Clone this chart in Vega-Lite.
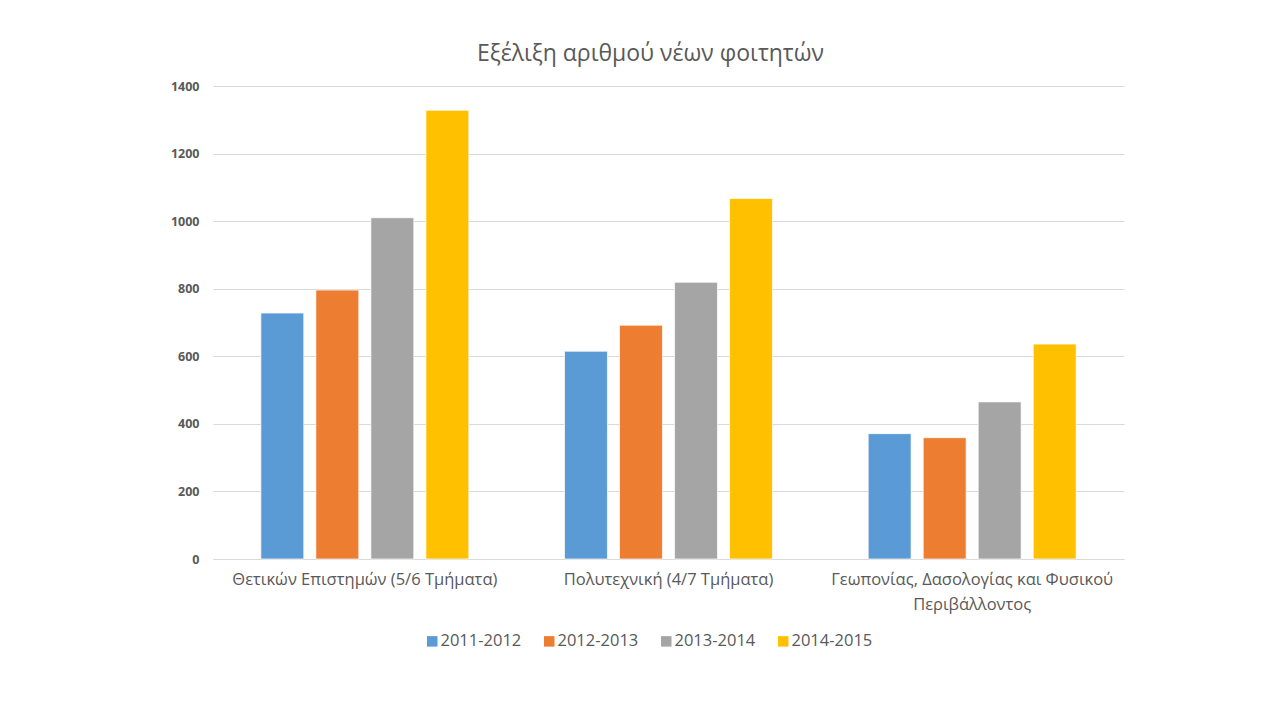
{
  "$schema": "https://vega.github.io/schema/vega-lite/v6.json",
  "width": 911,
  "height": 473,
  "autosize": {"type": "none"},
  "padding": {"left": 213, "top": 86, "right": 154, "bottom": 164},
  "background": "white",
  "title": {
    "text": "Εξέλιξη αριθμού νέων φοιτητών",
    "font": "Open Sans",
    "fontSize": 23,
    "fontWeight": "normal",
    "color": "#595959",
    "anchor": "middle",
    "dx": -18,
    "offset": 14
  },
  "data": {
    "values": [
      {"school": "Θετικών Επιστημών (5/6 Τμήματα)", "year": "2011-2012", "students": 728},
      {"school": "Θετικών Επιστημών (5/6 Τμήματα)", "year": "2012-2013", "students": 796},
      {"school": "Θετικών Επιστημών (5/6 Τμήματα)", "year": "2013-2014", "students": 1010},
      {"school": "Θετικών Επιστημών (5/6 Τμήματα)", "year": "2014-2015", "students": 1328},
      {"school": "Πολυτεχνική (4/7 Τμήματα)", "year": "2011-2012", "students": 615},
      {"school": "Πολυτεχνική (4/7 Τμήματα)", "year": "2012-2013", "students": 692},
      {"school": "Πολυτεχνική (4/7 Τμήματα)", "year": "2013-2014", "students": 819},
      {"school": "Πολυτεχνική (4/7 Τμήματα)", "year": "2014-2015", "students": 1067},
      {"school": "Γεωπονίας, Δασολογίας και Φυσικού Περιβάλλοντος", "year": "2011-2012", "students": 371},
      {"school": "Γεωπονίας, Δασολογίας και Φυσικού Περιβάλλοντος", "year": "2012-2013", "students": 359},
      {"school": "Γεωπονίας, Δασολογίας και Φυσικού Περιβάλλοντος", "year": "2013-2014", "students": 465},
      {"school": "Γεωπονίας, Δασολογίας και Φυσικού Περιβάλλοντος", "year": "2014-2015", "students": 636}
    ]
  },
  "mark": {"type": "bar", "stroke": "white", "strokeWidth": 0.7},
  "encoding": {
    "x": {
      "field": "school",
      "type": "nominal",
      "sort": null,
      "title": null,
      "scale": {"paddingInner": 0, "paddingOuter": 0},
      "axis": {
        "labelAngle": 0,
        "labelFont": "Open Sans",
        "labelFontSize": 16.5,
        "labelColor": "#595959",
        "labelPadding": 12,
        "labelLineHeight": 25,
        "ticks": false,
        "domainColor": "#d9d9d9",
        "domainWidth": 1,
        "labelLimit": 400,
        "labelExpr": "datum.label == 'Γεωπονίας, Δασολογίας και Φυσικού Περιβάλλοντος' ? ['Γεωπονίας, Δασολογίας και Φυσικού', 'Περιβάλλοντος'] : datum.label"
      }
    },
    "xOffset": {
      "field": "year",
      "type": "nominal",
      "scale": {"paddingInner": 0.22, "paddingOuter": 0.87}
    },
    "y": {
      "field": "students",
      "type": "quantitative",
      "title": null,
      "scale": {"domain": [0, 1400], "nice": false},
      "axis": {
        "values": [0, 200, 400, 600, 800, 1000, 1200, 1400],
        "format": "d",
        "labelFont": "Open Sans",
        "labelFontSize": 12.5,
        "labelFontWeight": "bold",
        "labelColor": "#595959",
        "labelPadding": 14,
        "ticks": false,
        "domain": false,
        "gridColor": "#d9d9d9",
        "gridWidth": 1
      }
    },
    "color": {
      "field": "year",
      "type": "nominal",
      "title": null,
      "scale": {
        "domain": ["2011-2012", "2012-2013", "2013-2014", "2014-2015"],
        "range": ["#5B9BD5", "#ED7D31", "#A5A5A5", "#FFC000"]
      },
      "legend": {
        "orient": "none",
        "direction": "horizontal",
        "legendX": 211,
        "legendY": 547,
        "symbolType": "square",
        "symbolSize": 110,
        "symbolStrokeWidth": 0,
        "labelFont": "Open Sans",
        "labelFontSize": 16.5,
        "labelColor": "#595959",
        "labelOffset": 0,
        "columnPadding": 19
      }
    }
  },
  "config": {
    "view": {"stroke": null}
  }
}
